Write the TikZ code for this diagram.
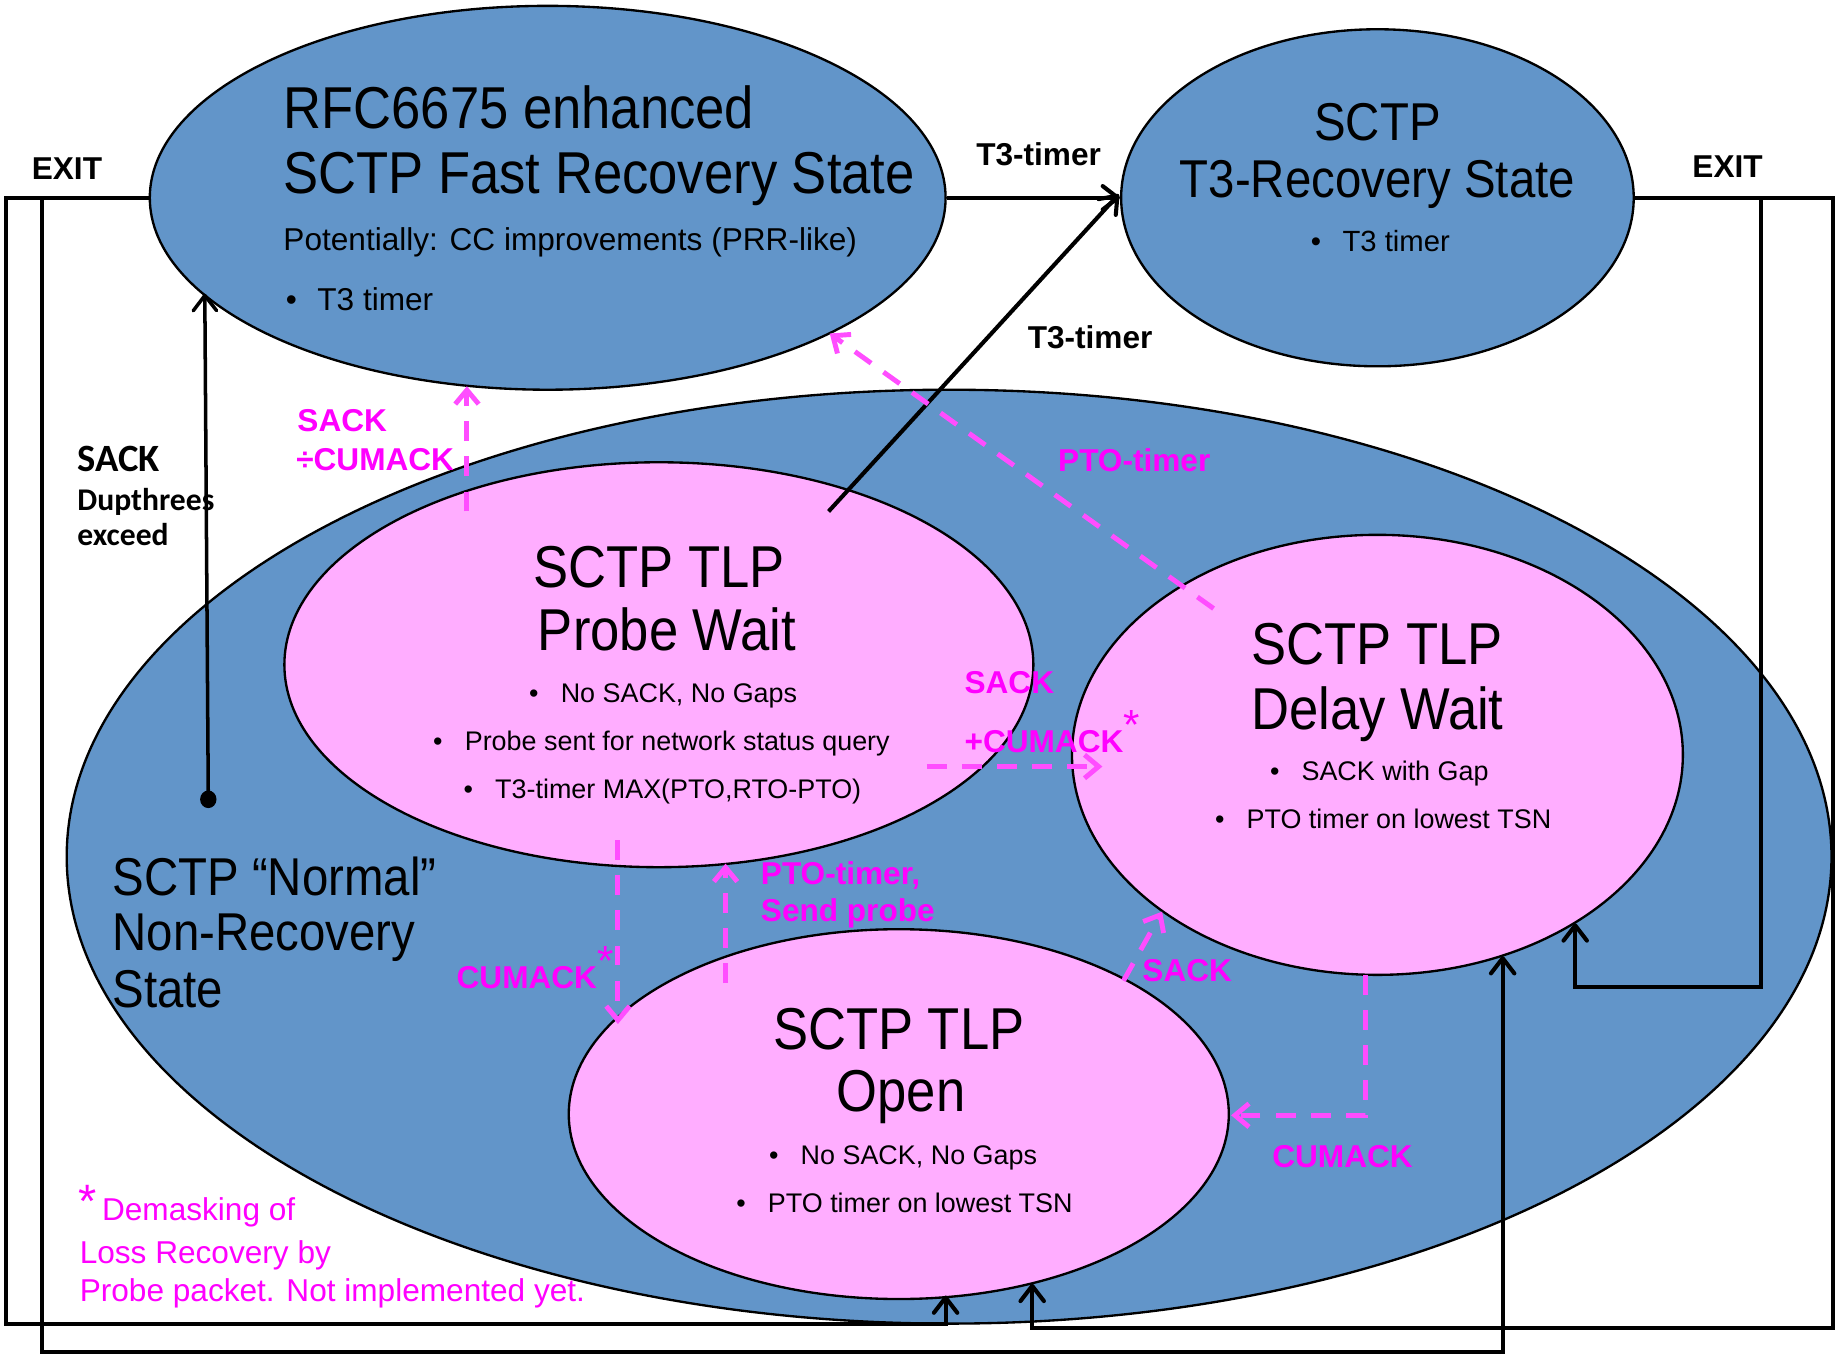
\documentclass[tikz,border=0pt]{standalone}
\usepackage{fontspec}
\setmainfont{Liberation Sans}
\newfontfamily\titlefont[FakeStretch=0.89]{Liberation Sans}
\newfontfamily\calfont{Carlito}
\usetikzlibrary{shapes.geometric,arrows.meta}
\definecolor{bluefill}{RGB}{98,149,201}
\definecolor{pinkfill}{RGB}{255,173,255}
\definecolor{mag}{RGB}{255,0,255}
\definecolor{magdash}{RGB}{255,77,255}
\newcommand{\bul}{\makebox[27pt][l]{\textbullet}}
\newcommand{\mstar}{\raisebox{0.42em}{\fontsize{36}{36}\selectfont\mdseries *}}
\begin{document}
\begin{tikzpicture}[x=1pt,y=-1pt,
  every node/.style={inner sep=0pt},
  state/.style={ellipse, draw=black, line width=2pt, inner sep=0pt},
  outerst/.style={state, fill=bluefill},
  tlp/.style={state, fill=pinkfill},
  conn/.style={line width=3.5pt, -{Straight Barb[length=13pt,width=20pt,round]}},
  mdash/.style={draw=magdash, line width=4.2pt, dash pattern=on 17pt off 13pt, -{Straight Barb[length=12pt,width=20pt]}},
  bigtitle/.style={font=\titlefont\fontsize{50.5}{55}\selectfont, anchor=base},
  midtitle/.style={font=\titlefont\fontsize{45.5}{50}\selectfont},
  blabel/.style={font=\bfseries\fontsize{27}{30}\selectfont, anchor=base west},
  mlabel/.style={blabel, text=mag},
  item/.style={font=\fontsize{23}{26}\selectfont, anchor=base west},
  note/.style={font=\fontsize{27}{30}\selectfont, anchor=base west, text=mag}
]
\useasboundingbox (0,0) rectangle (1568,1157);

% ellipses
\node[outerst, minimum width=1508pt, minimum height=798pt] (e3) at (811,732) {};
\node[outerst, minimum width=680pt, minimum height=328pt] (e1) at (468,169) {};
\node[outerst, minimum width=438pt, minimum height=288pt] (e2) at (1177,169) {};
\node[tlp, minimum width=640pt, minimum height=346pt] (e4) at (563,568) {};
\node[tlp, minimum width=522pt, minimum height=376pt] (e5) at (1177,645) {};
\node[tlp, minimum width=564pt, minimum height=316pt] (e6) at (768,952) {};

% texts in the fast recovery state
\node[font=\titlefont\fontsize{50.5}{55}\selectfont, anchor=base west] (t1a) at (242,110) {RFC6675 enhanced};
\node[font=\titlefont\fontsize{50.5}{55}\selectfont, anchor=base west] (t1b) at (242,165) {SCTP Fast Recovery State};
\node[font=\fontsize{27}{30}\selectfont, anchor=base west] (t1c) at (242,214) {Potentially: CC improvements (PRR-like)};
\node[font=\fontsize{27}{30}\selectfont, anchor=base west] (t1d) at (244,265) {\bul T3 timer};

% T3 recovery
\node[midtitle, anchor=base] (t2a) at (1177,120) {SCTP};
\node[midtitle, anchor=base] (t2b) at (1177,169) {T3-Recovery State};
\node[font=\fontsize{25}{28}\selectfont, anchor=base west] (t2c) at (1120,215) {\bul T3 timer};

% probe wait
\node[bigtitle] (t4a) at (563,502) {SCTP TLP};
\node[bigtitle] (t4b) at (570,556) {Probe Wait};
\node[item] (t4c) at (452,600) {\bul No SACK, No Gaps};
\node[item] (t4d) at (370,641) {\bul Probe sent for network status query};
\node[item] (t4e) at (396,682) {\bul T3-timer MAX(PTO,RTO-PTO)};

% delay wait
\node[bigtitle] (t5a) at (1177,568) {SCTP TLP};
\node[bigtitle] (t5b) at (1177,623) {Delay Wait};
\node[item] (t5c) at (1085,667) {\bul SACK with Gap};
\node[item] (t5d) at (1038,708) {\bul PTO timer on lowest TSN};

% open
\node[bigtitle] (t6a) at (768,897) {SCTP TLP};
\node[bigtitle] (t6b) at (770,950) {Open};
\node[item] (t6c) at (657,995) {\bul No SACK, No Gaps};
\node[item] (t6d) at (629,1036) {\bul PTO timer on lowest TSN};

% normal
\node[midtitle, anchor=base west] (t3a) at (96,765) {SCTP “Normal”};
\node[midtitle, anchor=base west] (t3b) at (96,812) {Non-Recovery};
\node[midtitle, anchor=base west] (t3c) at (96,861) {State};

% footnote
\node[anchor=base west, text=mag, font=\fontsize{40}{40}\selectfont] (fs) at (67,1040) {*};
\node[note] (f1) at (87,1043) {Demasking of};
\node[note] (f2) at (68,1080) {Loss Recovery by};
\node[note] (f3) at (68,1112) {Probe packet. Not implemented yet.};

% coordinates for connector ends
\coordinate (a1) at (808,1107);
\coordinate (b1) at (1284,817);
\coordinate (c1) at (882,1097);
\coordinate (d1) at (1346,789);
\coordinate (s1) at (175,251);
\coordinate (g1) at (708,437);
\coordinate (g2) at (956,166);
\coordinate (m1a) at (399,437);
\coordinate (m1b) at (399,330);
\coordinate (m2a) at (1037,520);
\coordinate (m2b) at (709,285);
\coordinate (m3a) at (792,655);
\coordinate (m3b) at (942,655);
\coordinate (m4a) at (528,718);
\coordinate (m4b) at (528,875);
\coordinate (m5a) at (620,840);
\coordinate (m5b) at (620,738);
\coordinate (m6a) at (960,838);
\coordinate (m6b) at (993,779);
\coordinate (m7a) at (1167,833);
\coordinate (m7b) at (1052,953);

% black connectors
\draw[conn] (e1.west) -- (5,169) -- (5,1131) -- (808,1131) -- (a1);
\draw[conn] (36,169) -- (36,1155) -- (1284,1155) -- (b1);
\draw[conn] (e2.east) -- (1566,169) -- (1566,1135) -- (882,1135) -- (c1);
\draw[conn] (1505,169) -- (1505,843) -- (1346,843) -- (d1);
\draw[conn] (e1.east) -- (e2.west);
\draw[conn] (g1) -- (g2);
\node[ellipse, fill=black, minimum width=14pt, minimum height=15pt] (dot) at (178,683) {};
\draw[line width=3pt, -{Straight Barb[length=13pt,width=20pt,round]}] (dot.center) -- (s1);

% magenta dashed connectors
\draw[mdash] (m1a) -- (m1b);
\draw[mdash] (m2a) -- (m2b);
\draw[mdash] (m3a) -- (m3b);
\draw[mdash] (m4a) -- (m4b);
\draw[mdash] (m5a) -- (m5b);
\draw[mdash] (m6a) -- (m6b);
\draw[mdash] (m7a) -- (1167,953) -- (m7b);

% black labels
\node[blabel] (l1) at (834,141) {T3-timer};
\node[blabel] (l2) at (878,298) {T3-timer};
\node[blabel] (l3) at (27,153) {EXIT};
\node[blabel] (l4) at (1446,152) {EXIT};
\node[anchor=base west, font=\calfont\bfseries\fontsize{33}{36}\selectfont] (l5) at (66,403) {SACK};
\node[anchor=base west, font=\calfont\bfseries\fontsize{27}{30}\selectfont] (l6) at (66,436) {Dupthrees};
\node[anchor=base west, font=\calfont\bfseries\fontsize{27}{30}\selectfont] (l7) at (66,466) {exceed};

% magenta labels
\node[mlabel] (k1) at (254,369) {SACK};
\node[mlabel] (k2) at (253,402) {÷CUMACK};
\node[mlabel] (k3) at (904,403) {PTO-timer};
\node[mlabel] (k4) at (824,593) {SACK};
\node[mlabel] (k5) at (824,643) {+CUMACK\mstar};
\node[mlabel] (k6) at (390,845) {CUMACK\mstar};
\node[mlabel] (k7) at (650,756) {PTO-timer,};
\node[mlabel] (k8) at (650,787) {Send probe};
\node[mlabel] (k9) at (976,839) {SACK};
\node[mlabel] (k10) at (1087,998) {CUMACK};
\end{tikzpicture}
\end{document}
